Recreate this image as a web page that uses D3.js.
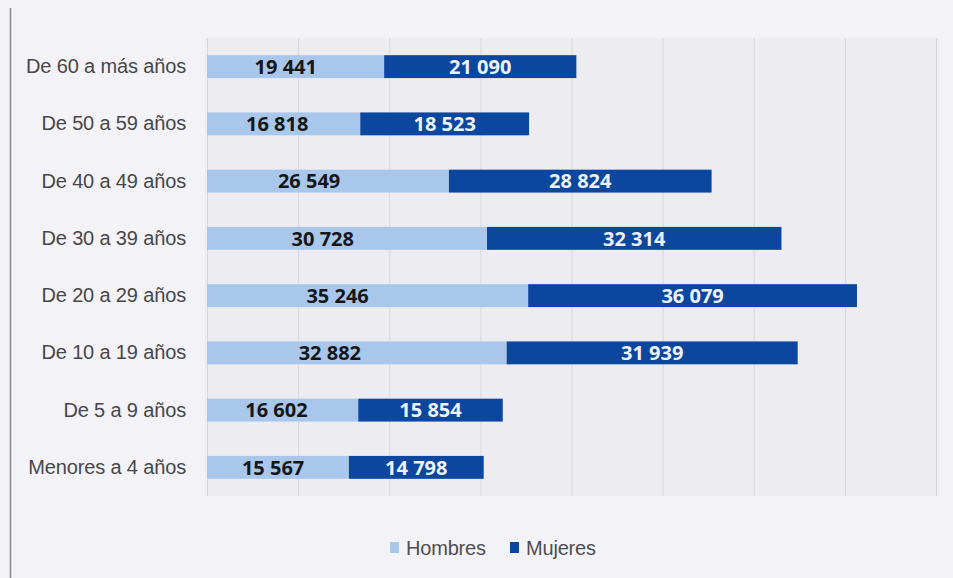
<!DOCTYPE html>
<html>
<head>
<meta charset="utf-8">
<script src="https://cdn.jsdelivr.net/npm/d3@7"></script>
<style>
	body { margin: 0; background: #f3f3f7; }
	svg { display: block; }
</style>
</head>
<body>
<svg width="953" height="578"></svg>
<script>
// grupos de edad, de arriba hacia abajo
const grupos = ['De 60 a más años', 'De 50 a 59 años', 'De 40 a 49 años', 'De 30 a 39 años',
	'De 20 a 29 años', 'De 10 a 19 años', 'De 5 a 9 años', 'Menores a 4 años']
const hombres = [19441, 16818, 26549, 30728, 35246, 32882, 16602, 15567]
const mujeres = [21090, 18523, 28824, 32314, 36079, 31939, 15854, 14798]
const series = ['Hombres', 'Mujeres']
const ticks = [0, 10000, 20000, 30000, 40000, 50000, 60000, 70000, 80000]

const colors = { Hombres: '#a8c7ea', Mujeres: '#0b469f' }

let data = grupos.map((g, i) => ({ grupo: g, Hombres: hombres[i], Mujeres: mujeres[i] }))
let stacked = d3.stack().keys(series)(data)

let svg = d3.select('svg')

let xScale = d3.scaleLinear().domain([0, 80000]).range([207, 936])
let yScale = d3.scaleBand().domain(grupos).range([38, 496]).paddingInner(0.6).paddingOuter(0.3)

// borde izquierdo de la hoja
svg.append('line')
	.attr('x1', 10.5).attr('x2', 10.5).attr('y1', 8).attr('y2', 578)
	.attr('stroke', '#8a8a8e').attr('stroke-width', 1.5)

// area del grafico
svg.append('rect')
	.attr('x', 205).attr('y', 38).attr('width', 734).attr('height', 458)
	.attr('fill', '#ececf1')

svg.append('g')
	.selectAll('line')
	.data(ticks)
	.join('line')
	.attr('x1', d => xScale(d) + 0.5).attr('x2', d => xScale(d) + 0.5)
	.attr('y1', 38).attr('y2', 496)
	.attr('stroke', '#d8d8dd')

// etiquetas de categorias
let yAxis = svg.append('g')
	.attr('transform', 'translate(186, 0)')
	.call(d3.axisLeft(yScale).tickSize(0).tickPadding(0))
yAxis.select('.domain').remove()
yAxis.selectAll('text')
	.attr('font-family', 'Liberation Sans, Arial, sans-serif')
	.attr('font-size', 20)
	.attr('letter-spacing', '-0.15px')
	.attr('fill', '#474749')

let fmt = v => d3.format(',')(v).replace(',', ' ')

let layers = svg.append('g').selectAll('g')
	.data(stacked)
	.join('g')
	.attr('fill', d => colors[d.key])

layers.selectAll('rect')
	.data(d => d)
	.join('rect')
	.attr('x', d => xScale(d[0]))
	.attr('y', d => yScale(d.data.grupo))
	.attr('width', d => xScale(d[1]) - xScale(d[0]))
	.attr('height', yScale.bandwidth())

// valores
layers.selectAll('text')
	.data(d => d.map(p => ({ p: p, key: d.key })))
	.join('text')
	.attr('x', d => {
		let x0 = xScale(d.p[0]), x1 = xScale(d.p[1])
		if (d.key === 'Hombres') return x0 + (x1 - x0) * 0.36 + 15
		return (x0 + x1) / 2
	})
	.attr('y', d => yScale(d.p.data.grupo) + yScale.bandwidth() / 2)
	.attr('dy', '0.36em')
	.attr('text-anchor', 'middle')
	.attr('font-family', 'Open Sans, sans-serif')
	.attr('font-weight', 700)
	.attr('font-size', 20)
	.attr('fill', d => d.key === 'Hombres' ? '#161616' : '#eef2fa')
	.text(d => fmt(d.p.data[d.key]))

// leyenda
let legend = svg.append('g')
	.attr('transform', 'translate(390, 548)')
let items = legend.selectAll('g')
	.data(series)
	.join('g')
	.attr('transform', (d, i) => `translate(${i * 120}, 0)`)
items.append('rect')
	.attr('x', 0).attr('y', -6).attr('width', 9).attr('height', 11)
	.attr('fill', d => colors[d])
items.append('text')
	.attr('x', 16).attr('y', 0).attr('dy', '0.35em')
	.attr('font-family', 'Liberation Sans, Arial, sans-serif')
	.attr('font-size', 20)
	.attr('letter-spacing', '-0.2px')
	.attr('fill', '#4d4d52')
	.text(d => d)
</script>
</body>
</html>
